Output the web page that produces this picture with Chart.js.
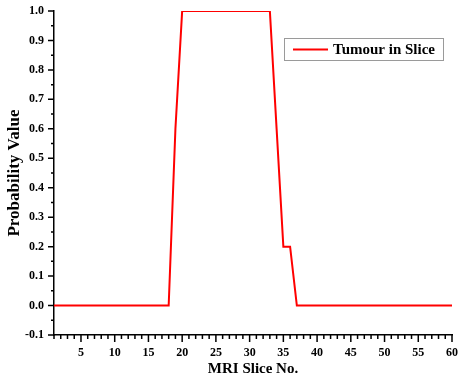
<!DOCTYPE html>
<html>
<head>
<meta charset="utf-8">
<script src="https://cdn.jsdelivr.net/npm/chart.js@4/dist/chart.umd.min.js"></script>
<style>
  html, body { margin: 0; padding: 0; background: #fff; }
  #wrap { width: 469px; height: 386px; }
</style>
</head>
<body>
<div id="wrap"><canvas id="chart" width="469" height="386"></canvas></div>
<script>
// slice numbers and probability per slice
const slices = [];
for (let i = 1; i <= 60; i++) slices.push(i);
const probability = [
  0, 0, 0, 0, 0, 0, 0, 0, 0, 0,
  0, 0, 0, 0, 0, 0, 0, 0, 0.6, 1.0,
  1.0, 1.0, 1.0, 1.0, 1.0, 1.0, 1.0, 1.0, 1.0, 1.0,
  1.0, 1.0, 1.0, 0.6, 0.2, 0.2, 0, 0, 0, 0,
  0, 0, 0, 0, 0, 0, 0, 0, 0, 0,
  0, 0, 0, 0, 0, 0, 0, 0, 0, 0
];
const xTicks = [5, 10, 15, 20, 25, 30, 35, 40, 45, 50, 55, 60];
const yTicks = [-0.1, 0.0, 0.1, 0.2, 0.3, 0.4, 0.5, 0.6, 0.7, 0.8, 0.9, 1.0];
const seriesLabel = "Tumour in Slice";

const serif = "'Liberation Serif', 'Times New Roman', serif";

// minor/major tick marks and the inset legend
const decorations = {
  id: "decorations",
  afterDraw(chart) {
    const ctx = chart.ctx;
    const xs = chart.scales.x;
    const ys = chart.scales.y;
    const area = chart.chartArea;
    ctx.save();
    ctx.strokeStyle = "#000";
    ctx.lineWidth = 1.5;
    ctx.beginPath();
    for (let v = xs.min; v <= xs.max; v++) {
      const px = xs.getPixelForValue(v);
      const len = xTicks.includes(v) ? 7 : 4;
      ctx.moveTo(px, area.bottom);
      ctx.lineTo(px, area.bottom + len);
    }
    for (let k = 0; k <= 22; k++) {
      const v = ys.min + k * 0.05;
      const py = ys.getPixelForValue(v);
      const len = k % 2 === 0 ? 6 : 3;
      ctx.moveTo(area.left, py);
      ctx.lineTo(area.left - len, py);
    }
    ctx.stroke();

    // legend box
    const ds = chart.data.datasets[0];
    const bx = area.right - 168, by = area.top + 27, bw = 159, bh = 22;
    ctx.lineWidth = 1;
    ctx.strokeStyle = "#9a9a9a";
    ctx.strokeRect(bx + 0.5, by + 0.5, bw, bh);
    ctx.strokeStyle = ds.borderColor;
    ctx.lineWidth = 2;
    ctx.beginPath();
    ctx.moveTo(bx + 9, by + 11.5);
    ctx.lineTo(bx + 44, by + 11.5);
    ctx.stroke();
    ctx.fillStyle = "#000";
    ctx.font = "bold 15px " + serif;
    ctx.textBaseline = "middle";
    ctx.textAlign = "left";
    ctx.fillText(ds.label, bx + 49, by + 12);
    ctx.restore();
  }
};

new Chart(document.getElementById("chart"), {
  type: "line",
  data: {
    labels: slices,
    datasets: [{
      label: seriesLabel,
      data: slices.map((s, i) => ({ x: s, y: probability[i] })),
      borderColor: "#ff0000",
      borderWidth: 2,
      pointRadius: 0,
      tension: 0,
      fill: false
    }]
  },
  options: {
    responsive: false,
    animation: false,
    layout: { padding: { top: 11, right: 17, bottom: 0, left: 0 } },
    plugins: {
      legend: { display: false },
      tooltip: { enabled: false }
    },
    scales: {
      x: {
        type: "linear",
        min: 1,
        max: 60,
        afterBuildTicks: (scale) => { scale.ticks = xTicks.map(v => ({ value: v })); },
        afterFit: (scale) => { scale.height = 51; },
        grid: { display: false, drawTicks: false, tickLength: 0 },
        border: { display: true, color: "#000", width: 1.5 },
        ticks: {
          color: "#000",
          padding: 11,
          maxRotation: 0,
          autoSkip: false,
          font: { family: serif, size: 12, weight: "bold" }
        },
        title: {
          display: true,
          text: "MRI Slice No.",
          color: "#000",
          padding: { top: 2, bottom: 8 },
          font: { family: serif, size: 15, weight: "bold" }
        }
      },
      y: {
        type: "linear",
        min: -0.1,
        max: 1.0,
        afterBuildTicks: (scale) => { scale.ticks = yTicks.map(v => ({ value: v })); },
        afterFit: (scale) => {
          scale.width = 54;
          scale.paddingTop = 0;
          scale.paddingBottom = 0;
        },
        grid: { display: false, drawTicks: false, tickLength: 0 },
        border: { display: true, color: "#000", width: 1.5 },
        ticks: {
          color: "#000",
          padding: 10,
          autoSkip: false,
          callback: (v) => Number(v).toFixed(1),
          font: { family: serif, size: 12, weight: "bold" }
        },
        title: {
          display: true,
          text: "Probability Value",
          color: "#000",
          padding: { top: 4, bottom: 0 },
          font: { family: serif, size: 17, weight: "bold" }
        }
      }
    }
  },
  plugins: [decorations]
});
</script>
</body>
</html>
